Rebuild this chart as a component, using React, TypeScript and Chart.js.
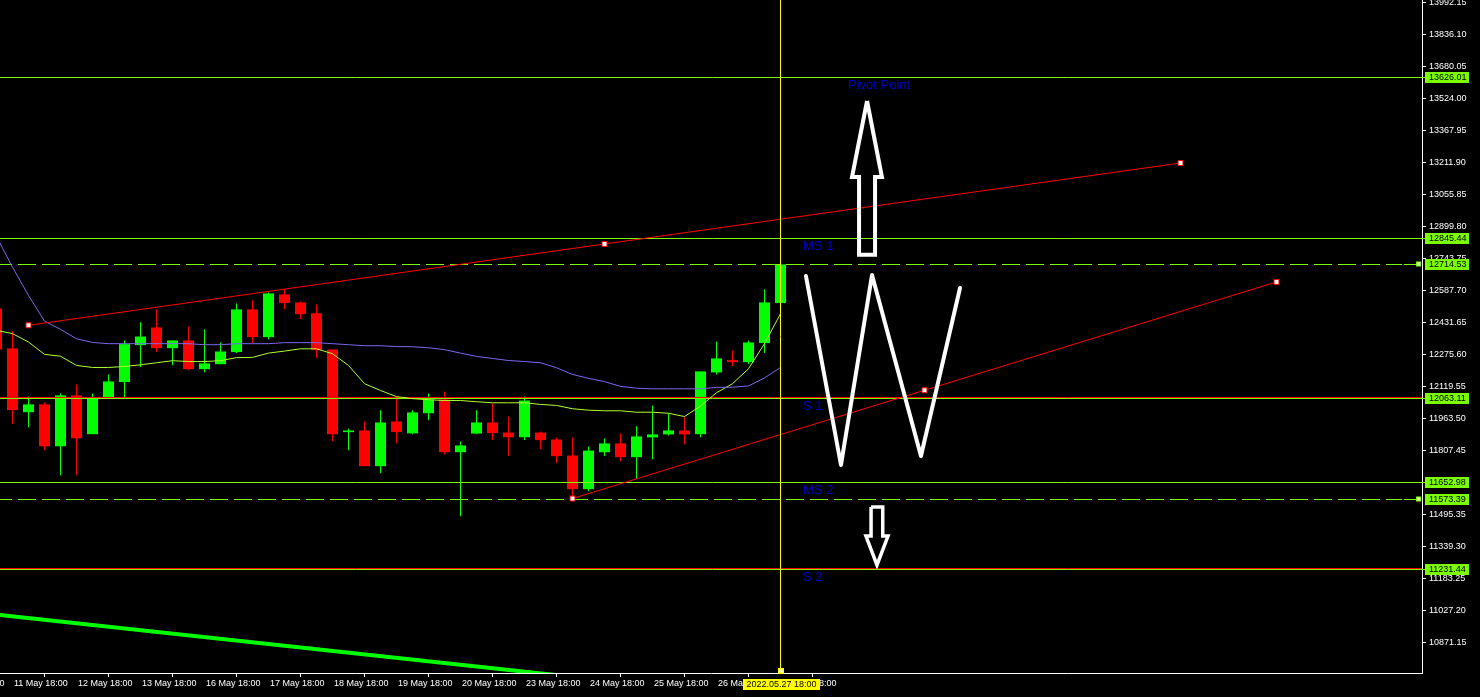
import React, { useEffect, useRef } from "react";
import { Chart, registerables } from "chart.js";

Chart.register(...registerables);

const FONT = "'Liberation Sans', Arial, Helvetica, sans-serif";
const GREEN = "#00FF00";
const RED = "#FF0000";
const LEVEL = "#7CFC00";

// candle index of the first element (the partly hidden candle at the left edge)
const firstCandleIndex = -1;

const candleOpen = [12500, 12305, 11994, 12032, 11828, 12076, 11887, 12063, 12141, 12321, 12407, 12306, 12344, 12204, 12228, 12287, 12495, 12360, 12568, 12529, 12476, 12300, 11897, 11905, 11731, 11949, 11891, 11989, 12056, 11799, 11890, 11944, 11895, 11872, 11895, 11861, 11783, 11619, 11799, 11842, 11775, 11871, 11886, 11905, 11887, 12188, 12248, 12238, 12331, 12526];
const candleHigh = [12510, 12388, 12071, 12042, 12085, 12129, 12085, 12178, 12344, 12432, 12495, 12344, 12412, 12398, 12334, 12524, 12539, 12578, 12593, 12534, 12519, 12300, 11915, 11949, 12003, 12071, 12003, 12085, 12095, 11851, 12003, 12037, 11973, 12071, 11900, 11871, 11871, 11827, 11866, 11890, 11925, 12027, 11988, 11973, 12193, 12339, 12295, 12344, 12593, 12714.53];
const candleLow = [12290, 11936, 11921, 11809, 11687, 11687, 11887, 12063, 12063, 12214, 12287, 12223, 12199, 12189, 12228, 12282, 12331, 12350, 12496, 12448, 12258, 11853, 11809, 11731, 11697, 11843, 11887, 11955, 11789, 11487, 11887, 11858, 11780, 11858, 11814, 11746, 11573.39, 11609, 11780, 11755, 11668, 11765, 11881, 11838, 11872, 12178, 12219, 12228, 12282, 12526];
const candleClose = [12300, 12004, 12032, 11828, 12076, 11867, 12066, 12144, 12326, 12363, 12306, 12344, 12204, 12232, 12290, 12495, 12360, 12573, 12526, 12472, 12297, 11887, 11905, 11731, 11944, 11897, 11993, 12056, 11799, 11832, 11944, 11892, 11872, 12051, 11858, 11780, 11619, 11807, 11842, 11775, 11876, 11886, 11905, 11886, 12193, 12256, 12238, 12334, 12529, 12714.53];

// moving averages (one value per candle)
const maSlow = [12850, 12701, 12563, 12438, 12398, 12352, 12334, 12328, 12328, 12328, 12328, 12328, 12328, 12323, 12323, 12328, 12328, 12328, 12333, 12333, 12333, 12328, 12323, 12318, 12318, 12314, 12313, 12308, 12299, 12282, 12266, 12256, 12246, 12241, 12235, 12211, 12178, 12159, 12143, 12120, 12111, 12108, 12108, 12108, 12108, 12115, 12116, 12122, 12161, 12212];
const maFast = [12393, 12377, 12336, 12276, 12267, 12222, 12212, 12212, 12217, 12225, 12235, 12245, 12241, 12241, 12245, 12260, 12261, 12282, 12292, 12303, 12303, 12279, 12222, 12133, 12100, 12070, 12060, 12055, 12051, 12051, 12045, 12040, 12040, 12040, 12032, 12027, 12011, 12004, 12001, 12001, 11994, 11994, 11989, 11973, 12024, 12089, 12133, 12206, 12328, 12474];

// time axis
const dayLabels = ["10 May 18:00", "11 May 18:00", "12 May 18:00", "13 May 18:00", "16 May 18:00", "17 May 18:00", "18 May 18:00", "19 May 18:00", "20 May 18:00", "23 May 18:00", "24 May 18:00", "25 May 18:00", "26 May 18:00", "27 May 18:00"];
const dayLabelIndex = [-4, 0, 4, 8, 12, 16, 20, 24, 28, 32, 36, 40, 44, 48];
const currentIndex = 48;
const currentTimeLabel = "2022.05.27 18:00";

// price axis
const yTickValues = [13992.15, 13836.10, 13680.05, 13524.00, 13367.95, 13211.90, 13055.85, 12899.80, 12743.75, 12587.70, 12431.65, 12275.60, 12119.55, 11963.50, 11807.45, 11651.40, 11495.35, 11339.30, 11183.25, 11027.20, 10871.15];
const Y_MIN = 10723;
const Y_MAX = 14003;
const X_MIN = -0.78125;
const X_MAX = 88.09375;

// horizontal levels
const levelValues = [13626.01, 12845.44, 12714.53, 12063.11, 11652.98, 11573.39, 11231.44];
const levelDashed = [false, false, true, false, false, true, false];
const redLevelValues = [12063.11, 11231.44];

// pivot texts
const pivotNames = ["Pivot Point", "MS 1", "S 1", "MS 2", "S 2"];
const pivotValues = [13626.01, 12845.44, 12063.11, 11652.98, 11231.44];
const pivotTextIndex = [52.22, 49.41, 49.41, 49.41, 49.41];

// drawn objects (index, price)
const trendUpper = [{ x: 1, y: 12417.7 }, { x: 37, y: 12813.9 }, { x: 73, y: 13208.6 }];
const trendLower = [{ x: 35, y: 11573.39 }, { x: 57, y: 12101 }, { x: 79, y: 12629 }];
const greenTrend = [{ x: -1, y: 11007.6 }, { x: 40, y: 10662 }];
const zigzagPath = [{ x: 49.59, y: 12657.9 }, { x: 51.78, y: 11736.7 }, { x: 53.72, y: 12662.7 }, { x: 56.78, y: 11780.6 }, { x: 59.22, y: 12599.4 }];
const upArrowPath = [
  { x: 53.41, y: 13510.8 }, { x: 54.34, y: 13140.4 }, { x: 53.91, y: 13140.4 }, { x: 53.91, y: 12761.7 },
  { x: 52.91, y: 12761.7 }, { x: 52.91, y: 13140.4 }, { x: 52.47, y: 13140.4 }, { x: 53.41, y: 13510.8 },
];
const downArrowPath = [
  { x: 53.66, y: 11532.0 }, { x: 54.39, y: 11532.0 }, { x: 54.39, y: 11390.7 }, { x: 54.72, y: 11390.7 },
  { x: 54.03, y: 11249.4 }, { x: 53.34, y: 11390.7 }, { x: 53.66, y: 11390.7 }, { x: 53.66, y: 11532.0 },
];

function makeOverlay(levelsAfterDataset: number) {
  return {
    id: "overlay",
    beforeDraw(chart: any) {
      const { ctx, width, height } = chart;
      ctx.save();
      ctx.fillStyle = "#000";
      ctx.fillRect(0, 0, width, height);
      ctx.restore();
    },
    afterDatasetDraw(chart: any, args: any) {
      if (args.index !== levelsAfterDataset) return;
      const { ctx, chartArea, scales } = chart;
      const y = scales.y;
      ctx.save();
      ctx.lineWidth = 1;
      // red pivot lines (one pixel above the green ones)
      redLevelValues.forEach((v) => {
        const py = Math.round(y.getPixelForValue(v)) - 0.5;
        ctx.strokeStyle = RED;
        ctx.setLineDash([]);
        ctx.beginPath();
        ctx.moveTo(chartArea.left, py);
        ctx.lineTo(chartArea.right, py);
        ctx.stroke();
      });
      levelValues.forEach((v, i) => {
        const py = Math.round(y.getPixelForValue(v)) + 0.5;
        ctx.strokeStyle = LEVEL;
        ctx.setLineDash(levelDashed[i] ? [18, 6] : []);
        ctx.lineDashOffset = 6;
        ctx.beginPath();
        ctx.moveTo(chartArea.left, py);
        ctx.lineTo(levelDashed[i] ? chartArea.right - 20 : chartArea.right + 3, py);
        ctx.stroke();
        if (levelDashed[i]) {
          ctx.setLineDash([]);
          ctx.beginPath();
          ctx.moveTo(chartArea.right - 18, py);
          ctx.lineTo(chartArea.right - 5, py);
          ctx.stroke();
          ctx.fillStyle = LEVEL;
          ctx.fillRect(chartArea.right - 6, py - 3, 5, 5);
          ctx.fillStyle = "#fff";
          ctx.fillRect(chartArea.right - 5, py - 2, 3, 3);
        }
      });
      ctx.restore();
    },
    afterDatasetsDraw(chart: any) {
      const { ctx, chartArea, scales } = chart;
      const x = scales.x;
      const y = scales.y;
      ctx.save();
      ctx.beginPath();
      ctx.rect(chartArea.left, chartArea.top, chartArea.right - chartArea.left, chartArea.bottom - chartArea.top);
      ctx.clip();
      ctx.font = `13px ${FONT}`;
      ctx.fillStyle = "#0000CD";
      ctx.textAlign = "left";
      ctx.textBaseline = "middle";
      pivotNames.forEach((n, i) => {
        ctx.fillText(n, x.getPixelForValue(pivotTextIndex[i]), Math.round(y.getPixelForValue(pivotValues[i])) + 8);
      });
      ctx.restore();
    },
    afterDraw(chart: any) {
      const { ctx, chartArea, scales } = chart;
      const x = scales.x;
      const y = scales.y;
      ctx.save();
      ctx.font = `9px ${FONT}`;
      ctx.textBaseline = "middle";
      ctx.textAlign = "left";
      levelValues.forEach((v) => {
        const py = Math.round(y.getPixelForValue(v));
        ctx.fillStyle = LEVEL;
        ctx.fillRect(chartArea.right + 3, py - 5, 44, 11);
        ctx.fillStyle = "#000";
        ctx.fillText(v.toFixed(2), chartArea.right + 7, py + 0.5);
      });
      const px = x.getPixelForValue(currentIndex);
      ctx.fillStyle = "#FFFF00";
      ctx.fillRect(Math.round(px - 38), chartArea.bottom + 6, 77, 11);
      ctx.fillStyle = "#000";
      ctx.textAlign = "center";
      ctx.fillText(currentTimeLabel, px + 1, chartArea.bottom + 12);
      // marker on the time axis
      ctx.fillStyle = "#FFFF00";
      ctx.fillRect(Math.round(px) - 3, chartArea.bottom - 5, 6, 6);
      ctx.fillStyle = "#fff";
      ctx.fillRect(Math.round(px) - 1.5, chartArea.bottom - 3.5, 3, 3);
      ctx.restore();
    },
  };
}

export default function App() {
  const ref = useRef<HTMLCanvasElement>(null);

  useEffect(() => {
    document.body.style.margin = "0";
    document.body.style.background = "#000";
    const idx = candleOpen.map((_, i) => i + firstCandleIndex);
    const colors = candleOpen.map((o, i) => (candleClose[i] >= o ? GREEN : RED));

    const lineBase = {
      type: "line" as const,
      pointRadius: 0,
      pointHoverRadius: 0,
      borderWidth: 1,
      tension: 0,
      clip: 0,
      fill: false,
    };

    const trendStyle = {
      ...lineBase,
      borderColor: RED,
      pointRadius: 3.5,
      pointStyle: "rect",
      pointBackgroundColor: "#fff",
      pointBorderColor: RED,
      pointBorderWidth: 1,
      order: 3,
    };

    const datasets: any[] = [
      {
        ...lineBase,
        data: zigzagPath,
        borderColor: "#fff",
        borderWidth: 4,
        borderJoinStyle: "round",
        borderCapStyle: "round",
        order: 1,
      },
      { ...lineBase, data: upArrowPath, borderColor: "#fff", borderWidth: 4, borderJoinStyle: "miter", order: 1 },
      { ...lineBase, data: downArrowPath, borderColor: "#fff", borderWidth: 3.5, borderJoinStyle: "miter", order: 1 },
      { ...trendStyle, data: trendUpper },
      { ...trendStyle, data: trendLower },
      { ...lineBase, data: greenTrend, borderColor: GREEN, borderWidth: 4, order: 4 },
      {
        ...lineBase,
        data: [{ x: currentIndex, y: Y_MIN }, { x: currentIndex, y: Y_MAX }],
        borderColor: "#FFFF00",
        order: 2,
      },
      { ...lineBase, data: idx.map((x, i) => ({ x, y: maSlow[i] })), borderColor: "#7B68EE", order: 8 },
      { ...lineBase, data: idx.map((x, i) => ({ x, y: maFast[i] })), borderColor: "#ADFF2F", order: 8 },
      {
        type: "bar",
        data: idx.map((x, i) => ({ x, y: [candleOpen[i], candleClose[i]] })),
        backgroundColor: colors,
        barThickness: 11,
        grouped: false,
        minBarLength: 1.5,
        borderWidth: 0,
        inflateAmount: 0,
        order: 10,
      },
      {
        type: "bar",
        data: idx.map((x, i) => ({ x, y: [candleLow[i], candleHigh[i]] })),
        backgroundColor: colors,
        barThickness: 1,
        grouped: false,
        borderWidth: 0,
        inflateAmount: 0,
        order: 11,
      },
    ];
    const bodyIndex = datasets.length - 2;

    const chart = new Chart(ref.current as HTMLCanvasElement, {
      type: "bar",
      data: { datasets },
      options: {
        animation: false,
        responsive: false,
        maintainAspectRatio: false,
        events: [],
        layout: { padding: 0, autoPadding: false },
        plugins: { legend: { display: false }, tooltip: { enabled: false } },
        scales: {
          x: {
            type: "linear",
            position: "bottom",
            min: X_MIN,
            max: X_MAX,
            offset: false,
            grid: { display: true, drawOnChartArea: false, drawTicks: true, tickLength: 4, color: "#fff", tickColor: "#fff" },
            border: { display: true, color: "#fff", width: 1 },
            ticks: {
              autoSkip: false,
              maxRotation: 0,
              minRotation: 0,
              align: "start",
              labelOffset: 1.5,
              padding: 1,
              color: "#fff",
              font: { family: FONT, size: 9 },
              callback: (_v: any, i: number) => dayLabels[i],
            },
            afterBuildTicks: (s: any) => {
              s.ticks = dayLabelIndex.map((v) => ({ value: v }));
            },
            afterFit: (s: any) => {
              s.height = 24;
              s.paddingLeft = 0;
              s.paddingRight = 0;
            },
          },
          y: {
            type: "linear",
            position: "right",
            min: Y_MIN,
            max: Y_MAX,
            grid: { display: true, drawOnChartArea: false, drawTicks: true, tickLength: 4, color: "#fff", tickColor: "#fff" },
            border: { display: true, color: "#fff", width: 1 },
            ticks: {
              autoSkip: false,
              padding: 3,
              color: "#fff",
              font: { family: FONT, size: 9 },
              callback: (v: any) => Number(v).toFixed(2),
            },
            afterBuildTicks: (s: any) => {
              s.ticks = yTickValues.map((v) => ({ value: v }));
            },
            afterFit: (s: any) => {
              s.width = 58;
              s.paddingTop = 0;
              s.paddingBottom = 0;
            },
          },
        },
      } as any,
      plugins: [makeOverlay(bodyIndex)],
    });
    return () => chart.destroy();
  }, []);

  return (
    <div style={{ width: 1480, height: 697, background: "#000" }}>
      <canvas ref={ref} width={1480} height={697} style={{ display: "block" }} />
    </div>
  );
}
